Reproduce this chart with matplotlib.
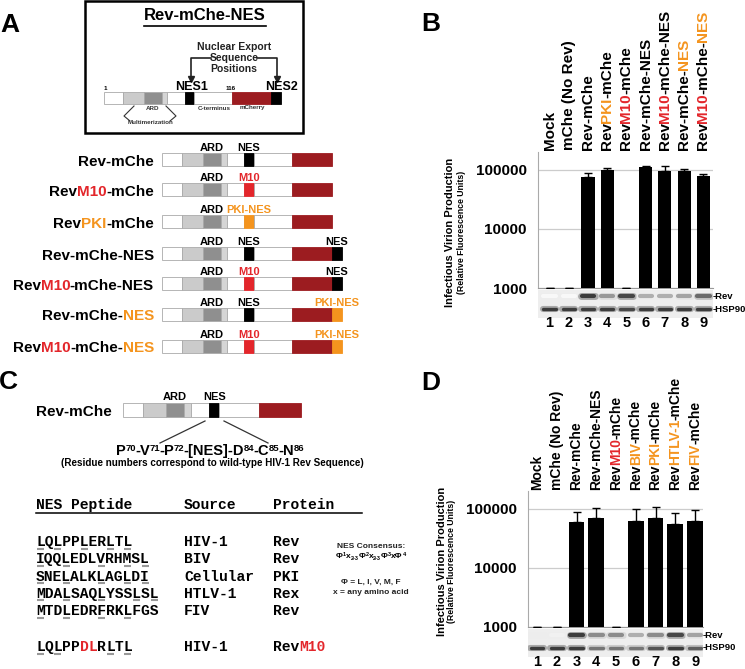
import matplotlib
matplotlib.use('Agg')
import matplotlib.pyplot as plt
from matplotlib.patches import Rectangle
from matplotlib.transforms import offset_copy

plt.rcParams['font.family'] = ['Liberation Sans', 'DejaVu Sans']
plt.rcParams['font.weight'] = 'bold'

K, RED, ORG = 'black', '#e3262b', '#f4941e'
MCH = '#9c1c20'

# ---- panel A: constructs ----
a_names = [[("Rev-mChe", K)],
           [("Rev", K), ("M10", RED), ("-mChe", K)],
           [("Rev", K), ("PKI", ORG), ("-mChe", K)],
           [("Rev-mChe-NES", K)],
           [("Rev", K), ("M10", RED), ("-mChe-NES", K)],
           [("Rev-mChe-", K), ("NES", ORG)],
           [("Rev", K), ("M10", RED), ("-mChe-", K), ("NES", ORG)]]
a_mid_text = ["NES", "M10", "PKI-NES", "NES", "M10", "NES", "M10"]
a_mid_col = [K, RED, ORG, K, RED, K, RED]
a_tail_text = [None, None, None, "NES", "NES", "PKI-NES", "PKI-NES"]
a_tail_col = [None, None, None, K, K, ORG, ORG]

# ---- panel B / D data ----
lanes = [1, 2, 3, 4, 5, 6, 7, 8, 9]
b_labels = [[("Mock", K)], [("mChe (No Rev)", K)], [("Rev-mChe", K)],
            [("Rev", K), ("PKI", ORG), ("-mChe", K)],
            [("Rev", K), ("M10", RED), ("-mChe", K)],
            [("Rev-mChe-NES", K)],
            [("Rev", K), ("M10", RED), ("-mChe-NES", K)],
            [("Rev-mChe-", K), ("NES", ORG)],
            [("Rev", K), ("M10", RED), ("-mChe-", K), ("NES", ORG)]]
b_vals = [1010, 1010, 76000, 100000, 1010, 112000, 96000, 97000, 79000]
b_upper = [1010, 1010, 89000, 108000, 1010, 117000, 117000, 102000, 85000]
b_rev = [0.03, 0.03, 0.85, 0.45, 0.8, 0.35, 0.35, 0.4, 0.65]
b_hsp = [0.85, 0.85, 0.85, 0.85, 0.8, 0.85, 0.85, 0.85, 0.85]

d_labels = [[("Mock", K)], [("mChe (No Rev)", K)], [("Rev-mChe", K)],
            [("Rev-mChe-NES", K)],
            [("Rev", K), ("M10", RED), ("-mChe", K)],
            [("Rev", K), ("BIV", ORG), ("-mChe", K)],
            [("Rev", K), ("PKI", ORG), ("-mChe", K)],
            [("Rev", K), ("HTLV-1", ORG), ("-mChe", K)],
            [("Rev", K), ("FIV", ORG), ("-mChe", K)]]
d_vals = [1010, 1010, 60000, 70000, 1010, 63000, 70000, 56000, 63000]
d_upper = [1010, 1010, 89000, 102000, 1010, 100000, 108000, 85000, 95000]
d_rev = [0.08, 0.06, 0.85, 0.5, 0.5, 0.35, 0.5, 0.8, 0.4]
d_hsp = [0.85, 0.85, 0.85, 0.6, 0.6, 0.6, 0.75, 0.85, 0.7]

# ---- panel C: NES table ----
peptides = ["LQLPPLERLTL", "IQQLEDLVRHMSL", "SNELALKLAGLDI", "MDALSAQLYSSLSL", "MTDLEDRFRKLFGS"]
pep_under = [[0, 2, 5, 8, 10], [0, 3, 7, 10, 12], [0, 3, 7, 10, 12], [0, 3, 7, 11, 13], [0, 3, 7, 10]]
sources = ["HIV-1", "BIV", "Cellular", "HTLV-1", "FIV"]
proteins = ["Rev", "Rev", "PKI", "Rex", "Rev"]
m10_pep = "LQLPPDLRLTL"
m10_red = [5, 6]
m10_under = [0, 2, 8, 10]

fig = plt.figure(figsize=(7.45, 6.69), dpi=100)
ov = fig.add_axes([0, 0, 1, 1])
ov.set_xlim(0, 745)
ov.set_ylim(669, 0)
ov.axis('off')


def rich(ax, x, y, parts, size, trans=None, rot=0, align='left', va='baseline', start=0.0, pad=-1.0, family=None):
    r = fig.canvas.get_renderer()
    trans = ax.transData if trans is None else trans
    items = []
    for p in parts:
        fs = p[2] if len(p) > 2 else size
        dy = p[3] if len(p) > 3 else 0
        kw = {'family': family} if family else {}
        t = ax.text(x, y, p[0], color=p[1], fontsize=fs, rotation=rot, rotation_mode='anchor',
                    ha='left', va=va, transform=trans, **kw)
        bb = t.get_window_extent(r)
        items.append((t, dy, (bb.height if rot == 90 else bb.width) + pad))
    total = sum(w for _, _, w in items) - pad
    off = start + {'left': 0, 'center': -total / 2, 'right': -total}[align]
    for t, dy, w in items:
        if rot == 90:
            t.set_transform(offset_copy(trans, fig=fig, x=-dy, y=off, units='dots'))
        else:
            t.set_transform(offset_copy(trans, fig=fig, x=off, y=dy, units='dots'))
        off += w
    return items


SEG = [0, 0.115, 0.24, 0.345, 0.38, 0.485, 0.54, 0.765, 1.0]
SEG_COL = ['white', '#cbcbcb', '#8f8f8f', '#d5d5d5', 'white', None, 'white', MCH]


def protein(x0, top, length, h, nes_col, tail_col=None):
    for a, b, c in zip(SEG[:-1], SEG[1:], SEG_COL):
        fc = nes_col if c is None else c
        ec = '#aaaaaa' if fc in ('white', '#cbcbcb', '#8f8f8f', '#d5d5d5') else fc
        ov.add_patch(Rectangle((x0 + a * length, top), (b - a) * length, h, fc=fc, ec=ec, lw=0.6))
    if tail_col:
        ov.add_patch(Rectangle((x0 + length, top), 0.06 * length, h, fc=tail_col, ec=tail_col, lw=0.6))


# panel letters
for lab, (lx, ly) in zip("ABCD", [(10, 25), (431, 24), (8, 382), (431, 383)]):
    ov.text(lx, ly, lab, fontsize=19, ha='center', va='center')

# ---------------- panel A box ----------------
ov.add_patch(Rectangle((85, 1), 218, 132, fc='none', ec='black', lw=1.8))
tt = ov.text(205, 20, "Rev-mChe-NES", fontsize=12, ha='center', va='baseline')
bb = tt.get_window_extent(fig.canvas.get_renderer())
(ux0, _), (ux1, _) = ov.transData.inverted().transform([[bb.x0, bb.y0], [bb.x1, bb.y0]])
ov.plot([ux0, ux1], [25.5, 25.5], color='black', lw=1.2)
for s, yy in zip(["Nuclear Export", "Sequence", "Positions"], [47, 58, 69]):
    ov.text(234, yy, s, fontsize=7.5, ha='center', va='center', color='#222222')
ov.plot([211, 191, 191], [58, 58, 76], color='#222222', lw=1.2)
ov.plot([257, 277, 277], [58, 58, 76], color='#222222', lw=1.2)
ov.plot([191, 277], [79, 79], ls='none', marker='v', ms=5, color='#222222')
ov.text(192, 90, "NES1", fontsize=9, ha='center', va='baseline')
ov.text(281, 90, "NES2", fontsize=9, ha='center', va='baseline')
ov.text(104, 89, "1", fontsize=4.5, ha='left', va='center')
ov.text(231, 89, "116", fontsize=4.5, ha='center', va='center')
protein(104, 92, 167, 12, K, K)
ov.text(153, 108, "ARD", fontsize=4.5, ha='center', va='center', color='#333333')
ov.text(214, 108, "C-terminus", fontsize=4.5, ha='center', va='center', color='#333333')
ov.text(252, 108, "mCherry", fontsize=4.5, ha='center', va='center', color='#333333')
ov.plot([134, 124, 130], [106, 116, 121], color='#333333', lw=0.8)
ov.plot([166, 176, 170], [106, 116, 121], color='#333333', lw=0.8)
ov.text(151, 123, "Multimerization", fontsize=4.5, ha='center', va='center', color='#333333')

# ---------------- panel A rows ----------------
row_tops = [153, 183, 215, 247, 277, 308, 340]
for i, top in enumerate(row_tops):
    protein(162, top, 170, 13, a_mid_col[i], a_tail_col[i])
    rich(ov, 154, top + 12.5, a_names[i], 11, align='right', pad=-0.3)
    ov.text(162 + 0.292 * 170, top - 2, "ARD", fontsize=8, ha='center', va='baseline')
    ov.text(162 + 0.5125 * 170, top - 2, a_mid_text[i], fontsize=8, ha='center', va='baseline',
            color=a_mid_col[i])
    if a_tail_text[i]:
        ov.text(337, top - 2, a_tail_text[i], fontsize=8, ha='center', va='baseline',
                color=a_tail_col[i])

# ---------------- panel C ----------------
protein(123, 403, 178, 14, K)
ov.text(112, 416, "Rev-mChe", fontsize=11, ha='right', va='baseline')
ov.text(123 + 0.292 * 178, 400, "ARD", fontsize=8, ha='center', va='baseline')
ov.text(123 + 0.5125 * 178, 400, "NES", fontsize=8, ha='center', va='baseline')
ov.plot([205, 160], [421, 443], color='#333333', lw=0.9)
ov.plot([224, 268], [421, 443], color='#333333', lw=0.9)
sup = 6.8
res_parts = [("P", K), ("70", K, sup, 4), ("-V", K), ("71", K, sup, 4), ("-P", K), ("72", K, sup, 4),
             ("-[NES]-D", K), ("84", K, sup, 4), ("-C", K), ("85", K, sup, 4), ("-N", K), ("86", K, sup, 4)]
rich(ov, 210, 455, res_parts, 10.5, align='center', pad=-0.6)
ov.text(212, 463, "(Residue numbers correspond to wild-type HIV-1 Rev Sequence)", fontsize=7.1,
        ha='center', va='center')

MONO = 'Liberation Mono'
fsm = 10.5
cw = 0.6 * fsm * 100 / 72
ov.text(36, 509, "NES Peptide", family=MONO, fontsize=fsm, va='baseline')
ov.text(184, 509, "Source", family=MONO, fontsize=fsm, va='baseline')
ov.text(273, 509, "Protein", family=MONO, fontsize=fsm, va='baseline')
ov.plot([36, 362], [512.5, 512.5], color='black', lw=1.1)


def underline(x0, base, idx):
    for j in idx:
        ov.plot([x0 + j * cw + 0.8, x0 + (j + 1) * cw - 0.8], [base + 2.5, base + 2.5],
                color='#999999', lw=1.5, solid_capstyle='butt')


for i, pep in enumerate(peptides):
    base = 546 + 17.3 * i
    ov.text(36, base, pep, family=MONO, fontsize=fsm, va='baseline')
    underline(36, base, pep_under[i])
    ov.text(184, base, sources[i], family=MONO, fontsize=fsm, va='baseline')
    ov.text(273, base, proteins[i], family=MONO, fontsize=fsm, va='baseline')

base = 651
for j, ch in enumerate(m10_pep):
    ov.text(36 + j * cw, base, ch, family=MONO, fontsize=fsm, va='baseline',
            color=RED if j in m10_red else K)
underline(36, base, m10_under)
ov.text(184, base, "HIV-1", family=MONO, fontsize=fsm, va='baseline')
ov.text(273, base, "Rev", family=MONO, fontsize=fsm, va='baseline')
ov.text(273 + 3 * cw, base, "M10", family=MONO, fontsize=fsm, va='baseline', color=RED)

ov.text(371, 547, "NES Consensus:", fontsize=6, ha='center', va='center', color='#222222')
cons = [("\u03a6", K), ("1", K, 4, 2.5), ("x", K), ("2-3", K, 4, -1.5), ("\u03a6", K), ("2", K, 4, 2.5),
        ("x", K), ("2-3", K, 4, -1.5), ("\u03a6", K), ("3", K, 4, 2.5), ("x\u03a6", K), ("4", K, 4, 2.5)]
rich(ov, 371, 558, cons, 6, align='center', pad=0.0)
ov.text(371, 582, "\u03a6 = L, I, V, M, F", fontsize=6, ha='center', va='center', color='#222222')
ov.text(371, 592, "x = any amino acid", fontsize=6, ha='center', va='center', color='#222222')


# ---------------- bar panels B and D ----------------
def bar_panel(left, bottom_px, xlim, width, vals, upper, labels, rev, hsp, lab_off, lab_fs, blot_top, ylab_xy):
    ax = fig.add_axes([left / 745, 1 - bottom_px / 669, 175 / 745, 136 / 669])
    ax.set_facecolor('none')
    ax.set_yscale('log')
    ax.bar(lanes, vals, width=width, color='black', zorder=3)
    err_up = [u - v for u, v in zip(upper, vals)]
    ax.errorbar(lanes, vals, yerr=[[0] * len(vals), err_up], fmt='none', ecolor='black',
                elinewidth=1, capsize=3, capthick=1, zorder=4)
    ax.set_ylim(1000, 2e5)
    ax.set_xlim(*xlim)
    ax.set_yticks([1000, 10000, 100000])
    ax.set_yticklabels(["1000", "10000", "100000"], fontsize=11, fontweight='bold')
    ax.yaxis.set_minor_locator(matplotlib.ticker.NullLocator())
    ax.set_xticks([])
    ax.tick_params(axis='y', length=0, pad=8)
    ax.yaxis.grid(True, color='#cccccc', lw=0.9, zorder=0)
    for sp in ['top', 'right']:
        ax.spines[sp].set_visible(False)
    ax.spines['left'].set_color('#aaaaaa')
    ax.spines['bottom'].set_color('#999999')
    for i, parts in zip(lanes, labels):
        rich(ax, i, 1.0, parts, lab_fs, trans=ax.get_xaxis_transform(),
             rot=90, va='center', start=lab_off, pad=-0.7)

    bl = fig.add_axes([left / 745, 1 - (blot_top + 28) / 669, 175 / 745, 28 / 669])
    bl.set_facecolor('#eeeeee')
    bl.set_xlim(*xlim)
    bl.set_ylim(28, 0)
    bl.set_xticks([])
    bl.set_yticks([])
    for sp in bl.spines.values():
        sp.set_visible(False)
    for i, a, b in zip(lanes, rev, hsp):
        for yy, inten, lw in [(6, a, 3.0), (19, b, 2.4)]:
            g = 1 - 0.9 * inten
            bl.plot([i - 0.34, i + 0.34], [yy, yy], color=str(min(g + 0.25, 0.93)), lw=lw + 2.0,
                    solid_capstyle='round', alpha=0.6)
            bl.plot([i - 0.32, i + 0.32], [yy, yy], color=str(g), lw=lw, solid_capstyle='round')
        bl.text(i, 33, str(i), fontsize=10.5, ha='center', va='center')
    bl.text(xlim[1] - 0.03, 6, "-Rev", fontsize=6.8, ha='left', va='center')
    bl.text(xlim[1] - 0.03, 19, "-HSP90", fontsize=6.8, ha='left', va='center')

    x1, x2, yc = ylab_xy
    ov.text(x1, yc, "Infectious Virion Production", fontsize=8, rotation=90, ha='center', va='center')
    ov.text(x2, yc, "(Relative Fluorescence Units)", fontsize=6.3, rotation=90, ha='center', va='center')
    return ax


bar_panel(538, 288, (0.4, 9.5), 0.68, b_vals, b_upper, b_labels, b_rev, b_hsp, 2.0, 11, 290, (450, 462, 232))
bar_panel(528, 627, (0.54, 9.40), 0.8, d_vals, d_upper, d_labels, d_rev, d_hsp, 1.0, 10, 629, (442, 452, 561))

fig.savefig("out.png", dpi=100)
